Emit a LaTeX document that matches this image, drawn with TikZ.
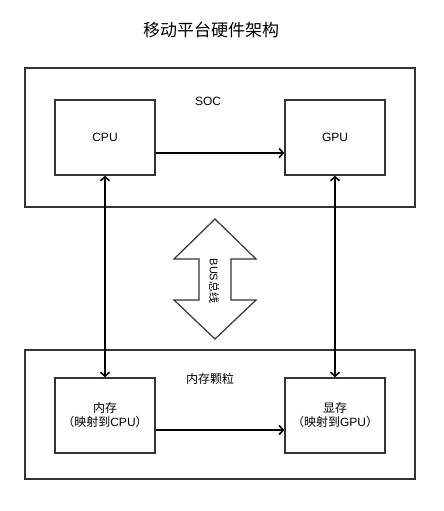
\documentclass[tikz,border=0pt]{standalone}
\usepackage{fontspec}
\setmainfont{Liberation Sans}
\newfontfamily\cjk{Noto Sans CJK SC}
\usepackage{xcolor}
\usepackage{tikz}
\usetikzlibrary{arrows.meta,positioning,calc}
\definecolor{boxgray}{RGB}{51,51,51}

\tikzset{
  outerbox/.style={draw=boxgray,line width=1.5pt,minimum width=390pt,inner sep=0pt},
  chipbox/.style={draw=boxgray,line width=1.5pt,minimum width=100pt,minimum height=75pt,align=center,inner sep=0pt},
  busarr/.style={black,line width=1.6pt,-{Straight Barb[length=4pt,width=9pt]}},
  dualarr/.style={black,line width=1.6pt,{Straight Barb[length=4pt,width=9pt]}-{Straight Barb[length=4pt,width=9pt]}}
}

\begin{document}
\begin{tikzpicture}[x=1pt,y=-1pt,font=\fontsize{12}{14}\selectfont]
\useasboundingbox (0,0) rectangle (444,511);
\node[font=\cjk\fontsize{17}{20}\selectfont] (title) at (211,30) {移动平台硬件架构};
% SoC
\node[outerbox,minimum height=139pt] (soc) at (220,137.5) {};
\node (soclabel) at (208,101) {SOC};
\node[chipbox] (cpu) at (105,137.5) {CPU};
\node[chipbox] (gpu) at (335,137.5) {GPU};
% memory chips
\node[outerbox,minimum height=129pt] (mem) at (220,414.5) {};
\node[font=\cjk\fontsize{12}{14}\selectfont] (memlabel) at (210,379) {内存颗粒};
\node[chipbox] (ram) at (105,415.5) {{\cjk 内存}\\{\cjk （映射到}CPU{\cjk ）}};
\node[chipbox] (vram) at (335,415.5) {{\cjk 显存}\\{\cjk （映射到}GPU{\cjk ）}};
% bus
\draw[boxgray,line width=1.2pt] (215,219) -- (256,259) -- (231,259) -- (231,300) -- (256,300)
  -- (215,339) -- (174,300) -- (199,300) -- (199,259) -- (174,259) -- cycle;
\node[rotate=-90,font=\fontsize{11}{13}\selectfont,inner sep=0pt] (bus) at (214,281) {BUS{\cjk 总线}};
% links
\draw[busarr] ($(cpu.east)+(0,15.5)$) -- ($(gpu.west)+(0,15.5)$);
\draw[busarr] ($(ram.east)+(0,14.5)$) -- ($(vram.west)+(0,14.5)$);
\draw[dualarr] (cpu.south) -- (ram.north);
\draw[dualarr] (gpu.south) -- (vram.north);
\end{tikzpicture}
\end{document}
